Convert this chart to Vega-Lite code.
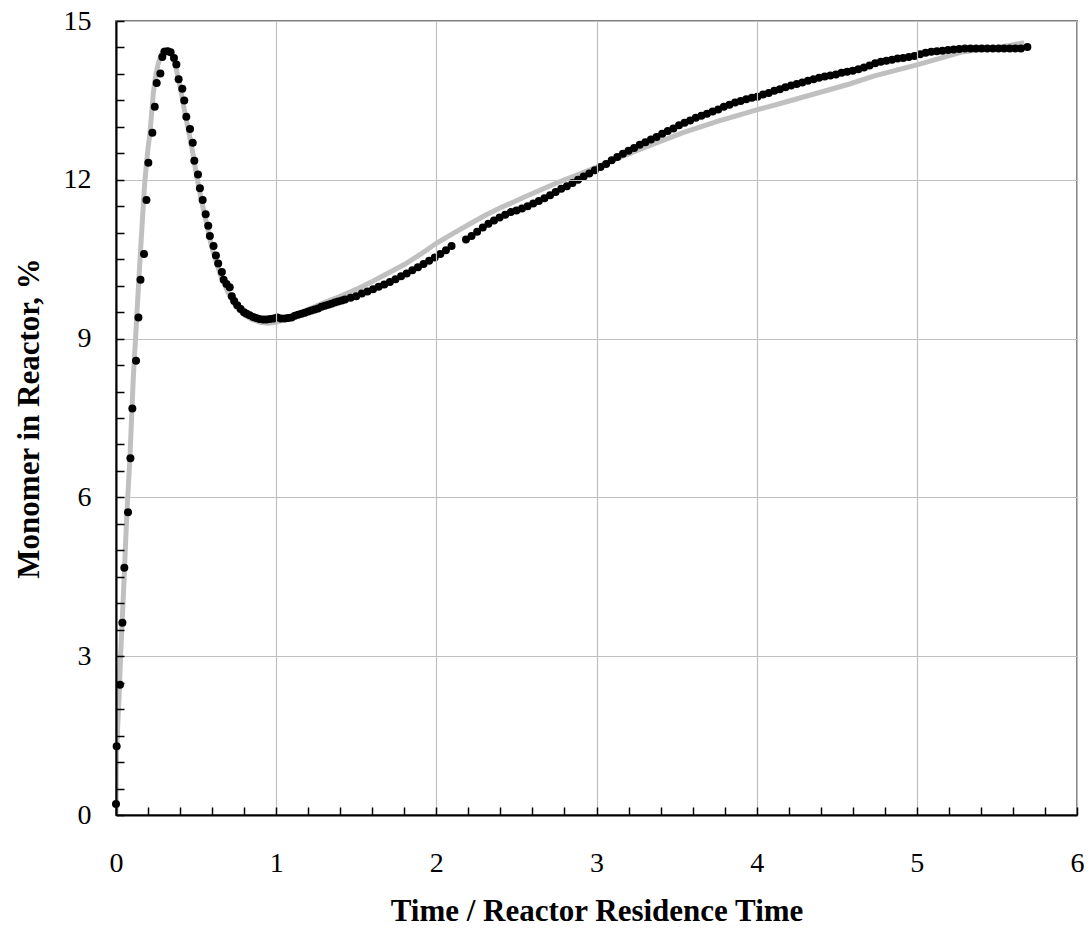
{
  "$schema": "https://vega.github.io/schema/vega-lite/v6.json",
  "width": 961,
  "height": 794,
  "autosize": {"type": "none"},
  "padding": {"left": 116, "top": 21, "right": 14, "bottom": 124},
  "background": "white",
  "config": {
    "view": {"stroke": "#808080", "strokeWidth": 2},
    "font": "Liberation Serif"
  },
  "datasets": {
    "model": [
      {"t":0,"m":0},{"t":0.003,"m":1.17},{"t":0.02,"m":2.29},{"t":0.029,"m":3.03},{"t":0.046,"m":4.15},{"t":0.067,"m":5.65},{"t":0.087,"m":6.76},{"t":0.108,"m":8.26},{"t":0.129,"m":9.38},{"t":0.15,"m":10.5},{"t":0.166,"m":11.3},{"t":0.18,"m":11.98},{"t":0.2,"m":12.6},{"t":0.212,"m":12.88},{"t":0.233,"m":13.64},{"t":0.25,"m":14.0},{"t":0.264,"m":14.2},{"t":0.285,"m":14.38},{"t":0.306,"m":14.46},{"t":0.325,"m":14.45},{"t":0.347,"m":14.39},{"t":0.37,"m":14.18},{"t":0.4,"m":13.76},{"t":0.425,"m":13.35},{"t":0.452,"m":12.94},{"t":0.48,"m":12.5},{"t":0.504,"m":12.06},{"t":0.53,"m":11.66},{"t":0.556,"m":11.3},{"t":0.6,"m":10.7},{"t":0.65,"m":10.22},{"t":0.7,"m":9.87},{"t":0.75,"m":9.6},{"t":0.8,"m":9.45},{"t":0.85,"m":9.36},{"t":0.9,"m":9.31},{"t":0.95,"m":9.29},{"t":1.0,"m":9.31},{"t":1.05,"m":9.36},{"t":1.1,"m":9.42},{"t":1.2,"m":9.55},{"t":1.3,"m":9.68},{"t":1.4,"m":9.8},{"t":1.5,"m":9.93},{"t":1.6,"m":10.08},{"t":1.7,"m":10.24},{"t":1.8,"m":10.4},{"t":1.9,"m":10.59},{"t":2.0,"m":10.8},{"t":2.1,"m":10.98},{"t":2.2,"m":11.15},{"t":2.3,"m":11.32},{"t":2.4,"m":11.47},{"t":2.54,"m":11.66},{"t":2.75,"m":11.94},{"t":2.96,"m":12.19},{"t":3.16,"m":12.44},{"t":3.37,"m":12.69},{"t":3.54,"m":12.89},{"t":3.75,"m":13.1},{"t":4.0,"m":13.32},{"t":4.17,"m":13.46},{"t":4.37,"m":13.63},{"t":4.58,"m":13.81},{"t":4.73,"m":13.96},{"t":5.0,"m":14.17},{"t":5.15,"m":14.3},{"t":5.29,"m":14.42},{"t":5.455,"m":14.48},{"t":5.58,"m":14.54},{"t":5.67,"m":14.59}
    ],
    "obs": [
      {"t":0.0,"m":0.21},{"t":0.004,"m":1.30},{"t":0.025,"m":2.46},{"t":0.040,"m":3.63},{"t":0.052,"m":4.67},{"t":0.075,"m":5.72},{"t":0.090,"m":6.74},{"t":0.102,"m":7.68},{"t":0.125,"m":8.58},{"t":0.140,"m":9.40},{"t":0.153,"m":10.11},{"t":0.175,"m":10.60},{"t":0.190,"m":11.62},{"t":0.202,"m":12.32},{"t":0.227,"m":12.89},{"t":0.242,"m":13.38},{"t":0.254,"m":13.83},{"t":0.277,"m":14.01},{"t":0.289,"m":14.32},{"t":0.302,"m":14.42},{"t":0.323,"m":14.43},{"t":0.341,"m":14.41},{"t":0.362,"m":14.30},{"t":0.377,"m":14.18},{"t":0.391,"m":13.90},{"t":0.414,"m":13.72},{"t":0.426,"m":13.50},{"t":0.439,"m":13.19},{"t":0.462,"m":12.96},{"t":0.479,"m":12.70},{"t":0.489,"m":12.36},{"t":0.512,"m":12.10},{"t":0.524,"m":11.84},{"t":0.541,"m":11.62},{"t":0.560,"m":11.35},{"t":0.576,"m":11.13},{"t":0.586,"m":10.94},{"t":0.609,"m":10.75},{"t":0.624,"m":10.57},{"t":0.638,"m":10.42},{"t":0.661,"m":10.26},{"t":0.672,"m":10.11},{"t":0.690,"m":10.03},{"t":0.710,"m":9.97},{"t":0.723,"m":9.80},{"t":0.738,"m":9.71},{"t":0.757,"m":9.63},{"t":0.778,"m":9.56},{"t":0.799,"m":9.50},{"t":0.815,"m":9.47},{"t":0.835,"m":9.44},{"t":0.857,"m":9.41},{"t":0.875,"m":9.39},{"t":0.895,"m":9.37},{"t":0.920,"m":9.36},{"t":0.940,"m":9.36},{"t":0.962,"m":9.37},{"t":0.985,"m":9.38},{"t":1.007,"m":9.40},{"t":1.030,"m":9.38},{"t":1.054,"m":9.38},{"t":1.075,"m":9.39},{"t":1.096,"m":9.40},{"t":1.117,"m":9.43},{"t":1.137,"m":9.45},{"t":1.158,"m":9.47},{"t":1.179,"m":9.49},{"t":1.200,"m":9.51},{"t":1.220,"m":9.53},{"t":1.241,"m":9.55},{"t":1.262,"m":9.57},{"t":1.283,"m":9.60},{"t":1.304,"m":9.62},{"t":1.325,"m":9.64},{"t":1.345,"m":9.66},{"t":1.366,"m":9.68},{"t":1.387,"m":9.70},{"t":1.41,"m":9.72},{"t":1.43,"m":9.74},{"t":1.465,"m":9.77},{"t":1.50,"m":9.80},{"t":1.535,"m":9.85},{"t":1.57,"m":9.89},{"t":1.605,"m":9.93},{"t":1.64,"m":9.98},{"t":1.675,"m":10.02},{"t":1.71,"m":10.07},{"t":1.745,"m":10.12},{"t":1.78,"m":10.18},{"t":1.815,"m":10.23},{"t":1.85,"m":10.29},{"t":1.885,"m":10.35},{"t":1.92,"m":10.41},{"t":1.955,"m":10.47},{"t":1.99,"m":10.53},{"t":2.025,"m":10.60},{"t":2.06,"m":10.67},{"t":2.095,"m":10.75},{"t":2.185,"m":10.87},{"t":2.22,"m":10.94},{"t":2.255,"m":11.02},{"t":2.29,"m":11.10},{"t":2.325,"m":11.17},{"t":2.36,"m":11.23},{"t":2.395,"m":11.29},{"t":2.43,"m":11.34},{"t":2.465,"m":11.39},{"t":2.50,"m":11.42},{"t":2.535,"m":11.46},{"t":2.57,"m":11.50},{"t":2.605,"m":11.55},{"t":2.64,"m":11.60},{"t":2.675,"m":11.65},{"t":2.71,"m":11.71},{"t":2.745,"m":11.77},{"t":2.78,"m":11.83},{"t":2.815,"m":11.88},{"t":2.85,"m":11.94},{"t":2.885,"m":12.00},{"t":2.92,"m":12.06},{"t":2.955,"m":12.12},{"t":2.99,"m":12.18},{"t":3.025,"m":12.24},{"t":3.06,"m":12.30},{"t":3.095,"m":12.37},{"t":3.13,"m":12.43},{"t":3.165,"m":12.49},{"t":3.20,"m":12.55},{"t":3.235,"m":12.60},{"t":3.27,"m":12.66},{"t":3.305,"m":12.71},{"t":3.34,"m":12.76},{"t":3.375,"m":12.81},{"t":3.41,"m":12.87},{"t":3.445,"m":12.92},{"t":3.48,"m":12.97},{"t":3.515,"m":13.03},{"t":3.55,"m":13.08},{"t":3.585,"m":13.12},{"t":3.62,"m":13.17},{"t":3.655,"m":13.21},{"t":3.69,"m":13.25},{"t":3.725,"m":13.29},{"t":3.76,"m":13.33},{"t":3.795,"m":13.38},{"t":3.83,"m":13.42},{"t":3.865,"m":13.46},{"t":3.90,"m":13.49},{"t":3.935,"m":13.52},{"t":3.97,"m":13.55},{"t":4.005,"m":13.57},{"t":4.04,"m":13.61},{"t":4.075,"m":13.64},{"t":4.11,"m":13.68},{"t":4.145,"m":13.71},{"t":4.18,"m":13.75},{"t":4.215,"m":13.78},{"t":4.25,"m":13.81},{"t":4.285,"m":13.84},{"t":4.32,"m":13.87},{"t":4.355,"m":13.90},{"t":4.39,"m":13.93},{"t":4.425,"m":13.95},{"t":4.46,"m":13.97},{"t":4.495,"m":13.99},{"t":4.53,"m":14.02},{"t":4.565,"m":14.04},{"t":4.60,"m":14.06},{"t":4.635,"m":14.09},{"t":4.67,"m":14.12},{"t":4.705,"m":14.16},{"t":4.74,"m":14.20},{"t":4.775,"m":14.23},{"t":4.81,"m":14.25},{"t":4.845,"m":14.27},{"t":4.88,"m":14.29},{"t":4.915,"m":14.30},{"t":4.95,"m":14.32},{"t":4.985,"m":14.34},{"t":5.02,"m":14.37},{"t":5.055,"m":14.40},{"t":5.09,"m":14.42},{"t":5.125,"m":14.43},{"t":5.16,"m":14.44},{"t":5.195,"m":14.45},{"t":5.23,"m":14.46},{"t":5.265,"m":14.47},{"t":5.30,"m":14.48},{"t":5.335,"m":14.48},{"t":5.37,"m":14.48},{"t":5.405,"m":14.48},{"t":5.44,"m":14.48},{"t":5.475,"m":14.48},{"t":5.51,"m":14.48},{"t":5.545,"m":14.48},{"t":5.58,"m":14.48},{"t":5.615,"m":14.48},{"t":5.65,"m":14.48},{"t":5.69,"m":14.51}
    ]
  },
  "encoding": {
    "x": {
      "field": "t", "type": "quantitative",
      "scale": {"domain": [0, 6], "nice": false, "zero": false},
      "axis": {
        "zindex": 1,
        "title": "Time / Reactor Residence Time",
        "titleFont": "Liberation Serif", "titleFontSize": 31, "titleFontWeight": "bold", "titleColor": "black",
        "titleY": 105, "titleBaseline": "alphabetic",
        "values": [0,0.2,0.4,0.6,0.8,1,1.2,1.4,1.6,1.8,2,2.2,2.4,2.6,2.8,3,3.2,3.4,3.6,3.8,4,4.2,4.4,4.6,4.8,5,5.2,5.4,5.6,5.8,6],
        "labelExpr": "abs(datum.value - round(datum.value)) < 0.001 ? format(datum.value, 'd') : ''",
        "labelFont": "Liberation Serif", "labelFontSize": 28, "labelColor": "black",
        "labelFlush": false, "labelOverlap": false, "labelPadding": 42,
        "ticks": true, "tickSize": -8, "tickOpacity": 1,
        "tickColor": "black", "tickWidth": 1.5,
        "domainColor": "black", "domainWidth": 2,
        "grid": true, "gridColor": "#c0c0c0", "gridWidth": 1.2,
        "gridOpacity": {"condition": {"test": "abs(datum.value - round(datum.value)) < 0.001", "value": 1}, "value": 0}
      }
    },
    "y": {
      "field": "m", "type": "quantitative",
      "scale": {"domain": [0, 15], "nice": false},
      "axis": {
        "zindex": 1,
        "title": "Monomer in Reactor, %",
        "titleFont": "Liberation Serif", "titleFontSize": 31, "titleFontWeight": "bold", "titleColor": "black",
        "titleX": -78, "titleBaseline": "alphabetic",
        "values": [0,0.5,1,1.5,2,2.5,3,3.5,4,4.5,5,5.5,6,6.5,7,7.5,8,8.5,9,9.5,10,10.5,11,11.5,12,12.5,13,13.5,14,14.5,15],
        "labelExpr": "abs(datum.value/3 - round(datum.value/3)) < 0.001 ? format(datum.value, 'd') : ''",
        "labelFont": "Liberation Serif", "labelFontSize": 28, "labelColor": "black",
        "labelFlush": false, "labelOverlap": false, "labelPadding": 33,
        "ticks": true, "tickSize": -8, "tickOpacity": 1,
        "tickColor": "black", "tickWidth": 1.5,
        "domainColor": "black", "domainWidth": 2,
        "grid": true, "gridColor": "#c0c0c0", "gridWidth": 1.2,
        "gridOpacity": {"condition": {"test": "abs(datum.value/3 - round(datum.value/3)) < 0.001 && datum.value > 0", "value": 1}, "value": 0}
      }
    }
  },
  "layer": [
    {
      "data": {"name": "model"},
      "mark": {"type": "line", "color": "#c0c0c0", "strokeWidth": 5, "clip": true}
    },
    {
      "data": {"name": "obs"},
      "mark": {"type": "circle", "color": "black", "opacity": 1, "size": 64}
    }
  ]
}
